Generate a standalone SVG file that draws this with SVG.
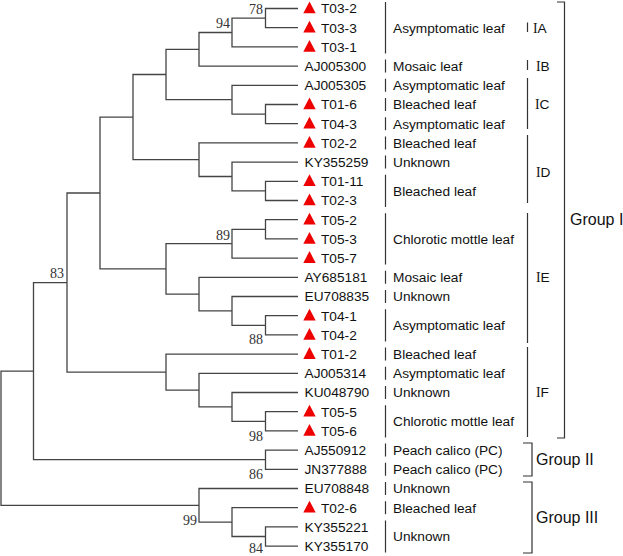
<svg xmlns="http://www.w3.org/2000/svg" width="623" height="556" viewBox="0 0 623 556">
<style>
.br{fill:none;stroke:#444;stroke-width:1.3}
.bar{fill:none;stroke:#333;stroke-width:1.2}
.lab{font-family:"Liberation Sans",Arial,sans-serif;font-size:13.7px;fill:#111}
.grp{font-family:"Liberation Sans",Arial,sans-serif;font-size:16px;fill:#111}
.rn{font-family:"Liberation Serif","Times New Roman",serif}
.bs{font-family:"Liberation Serif","Times New Roman",serif;font-size:14px;fill:#333;text-anchor:end}
.tri{fill:#ee0000}
</style>
<defs>
<path id="tri" class="tri" d="M0 -7 L6.2 4.8 L-6.2 4.8 Z"/>
</defs>
<rect width="623" height="556" fill="#fff"/>
<g id="connectors">
<path class="br" d="M298 8.5 H265.5 V27.7 H298"/>
<path class="br" d="M265.5 18.1 H232 V46.9 H298"/>
<path class="br" d="M232 32.5 H199 V66.1 H298"/>
<path class="br" d="M298 104.5 H265.5 V123.7 H298"/>
<path class="br" d="M298 85.3 H232 V114.1 H265.5"/>
<path class="br" d="M199 49.3 H166 V99.7 H232"/>
<path class="br" d="M298 181.3 H265.5 V200.5 H298"/>
<path class="br" d="M298 162.1 H232 V190.9 H265.5"/>
<path class="br" d="M298 142.9 H199 V176.5 H232"/>
<path class="br" d="M166 74.5 H133 V159.7 H199"/>
<path class="br" d="M298 219.7 H265.5 V238.9 H298"/>
<path class="br" d="M265.5 229.3 H232 V258.1 H298"/>
<path class="br" d="M298 315.7 H265.5 V334.9 H298"/>
<path class="br" d="M298 296.5 H232 V325.3 H265.5"/>
<path class="br" d="M298 277.3 H199 V310.9 H232"/>
<path class="br" d="M232 243.7 H166 V294.1 H199"/>
<path class="br" d="M133 117.1 H100 V268.9 H166"/>
<path class="br" d="M298 411.7 H265.5 V430.9 H298"/>
<path class="br" d="M298 392.5 H232 V421.3 H265.5"/>
<path class="br" d="M298 373.3 H199 V406.9 H232"/>
<path class="br" d="M298 354.1 H166 V390.1 H199"/>
<path class="br" d="M100 193 H67 V372.1 H166"/>
<path class="br" d="M298 450.1 H265.5 V469.3 H298"/>
<path class="br" d="M67 282.55 H33.5 V459.7 H265.5"/>
<path class="br" d="M298 526.9 H265.5 V546.1 H298"/>
<path class="br" d="M298 507.7 H232 V536.5 H265.5"/>
<path class="br" d="M298 488.5 H199 V522.1 H232"/>
<path class="br" d="M33.5 371.1 H1 V505.3 H199"/>
</g>
<g id="bootstrap">
<text class="bs" x="263" y="14">78</text>
<text class="bs" x="230" y="28">94</text>
<text class="bs" x="230" y="240">89</text>
<text class="bs" x="263" y="344">88</text>
<text class="bs" x="64" y="278">83</text>
<text class="bs" x="263" y="441">98</text>
<text class="bs" x="263" y="479">86</text>
<text class="bs" x="197" y="525">99</text>
<text class="bs" x="263" y="553">84</text>
</g>
<g id="leaf-T03-2"><use href="#tri" x="309.5" y="8.5"/><text class="lab" x="321" y="13.3">T03-2</text></g>
<g id="leaf-T03-3"><use href="#tri" x="309.5" y="27.7"/><text class="lab" x="321" y="32.5">T03-3</text></g>
<g id="leaf-T03-1"><use href="#tri" x="309.5" y="46.9"/><text class="lab" x="321" y="51.7">T03-1</text></g>
<g id="leaf-AJ005300"><text class="lab" x="304.5" y="70.9">AJ005300</text></g>
<g id="leaf-AJ005305"><text class="lab" x="304.5" y="90.1">AJ005305</text></g>
<g id="leaf-T01-6"><use href="#tri" x="309.5" y="104.5"/><text class="lab" x="321" y="109.3">T01-6</text></g>
<g id="leaf-T04-3"><use href="#tri" x="309.5" y="123.7"/><text class="lab" x="321" y="128.5">T04-3</text></g>
<g id="leaf-T02-2"><use href="#tri" x="309.5" y="142.9"/><text class="lab" x="321" y="147.7">T02-2</text></g>
<g id="leaf-KY355259"><text class="lab" x="304.5" y="166.9">KY355259</text></g>
<g id="leaf-T01-11"><use href="#tri" x="309.5" y="181.3"/><text class="lab" x="321" y="186.1">T01-11</text></g>
<g id="leaf-T02-3"><use href="#tri" x="309.5" y="200.5"/><text class="lab" x="321" y="205.3">T02-3</text></g>
<g id="leaf-T05-2"><use href="#tri" x="309.5" y="219.7"/><text class="lab" x="321" y="224.5">T05-2</text></g>
<g id="leaf-T05-3"><use href="#tri" x="309.5" y="238.9"/><text class="lab" x="321" y="243.7">T05-3</text></g>
<g id="leaf-T05-7"><use href="#tri" x="309.5" y="258.1"/><text class="lab" x="321" y="262.9">T05-7</text></g>
<g id="leaf-AY685181"><text class="lab" x="304.5" y="282.1">AY685181</text></g>
<g id="leaf-EU708835"><text class="lab" x="304.5" y="301.3">EU708835</text></g>
<g id="leaf-T04-1"><use href="#tri" x="309.5" y="315.7"/><text class="lab" x="321" y="320.5">T04-1</text></g>
<g id="leaf-T04-2"><use href="#tri" x="309.5" y="334.9"/><text class="lab" x="321" y="339.7">T04-2</text></g>
<g id="leaf-T01-2"><use href="#tri" x="309.5" y="354.1"/><text class="lab" x="321" y="358.9">T01-2</text></g>
<g id="leaf-AJ005314"><text class="lab" x="304.5" y="378.1">AJ005314</text></g>
<g id="leaf-KU048790"><text class="lab" x="304.5" y="397.3">KU048790</text></g>
<g id="leaf-T05-5"><use href="#tri" x="309.5" y="411.7"/><text class="lab" x="321" y="416.5">T05-5</text></g>
<g id="leaf-T05-6"><use href="#tri" x="309.5" y="430.9"/><text class="lab" x="321" y="435.7">T05-6</text></g>
<g id="leaf-AJ550912"><text class="lab" x="304.5" y="454.9">AJ550912</text></g>
<g id="leaf-JN377888"><text class="lab" x="304.5" y="474.1">JN377888</text></g>
<g id="leaf-EU708848"><text class="lab" x="304.5" y="493.3">EU708848</text></g>
<g id="leaf-T02-6"><use href="#tri" x="309.5" y="507.7"/><text class="lab" x="321" y="512.5">T02-6</text></g>
<g id="leaf-KY355221"><text class="lab" x="304.5" y="531.7">KY355221</text></g>
<g id="leaf-KY355170"><text class="lab" x="304.5" y="550.9">KY355170</text></g>
<g id="symptoms">
<path class="bar" d="M385.5 2 V53.4 M385.5 59.6 V72.6 M385.5 78.8 V91.8 M385.5 98 V111 M385.5 117.2 V130.2 M385.5 136.4 V149.4 M385.5 155.6 V168.6 M385.5 174.8 V207 M385.5 213.2 V264.6 M385.5 270.8 V283.8 M385.5 290 V303 M385.5 309.2 V341.4 M385.5 347.6 V360.6 M385.5 366.8 V379.8 M385.5 386 V399 M385.5 405.2 V437.4 M385.5 443.6 V456.6 M385.5 462.8 V475.8 M385.5 482 V495 M385.5 501.2 V514.2 M385.5 520.4 V552.6"/>
<text class="lab" x="393" y="32.5">Asymptomatic leaf</text>
<text class="lab" x="393" y="70.9">Mosaic leaf</text>
<text class="lab" x="393" y="90.1">Asymptomatic leaf</text>
<text class="lab" x="393" y="109.3">Bleached leaf</text>
<text class="lab" x="393" y="128.5">Asymptomatic leaf</text>
<text class="lab" x="393" y="147.7">Bleached leaf</text>
<text class="lab" x="393" y="166.9">Unknown</text>
<text class="lab" x="393" y="195.7">Bleached leaf</text>
<text class="lab" x="393" y="243.7">Chlorotic mottle leaf</text>
<text class="lab" x="393" y="282.1">Mosaic leaf</text>
<text class="lab" x="393" y="301.3">Unknown</text>
<text class="lab" x="393" y="330.1">Asymptomatic leaf</text>
<text class="lab" x="393" y="358.9">Bleached leaf</text>
<text class="lab" x="393" y="378.1">Asymptomatic leaf</text>
<text class="lab" x="393" y="397.3">Unknown</text>
<text class="lab" x="393" y="426.1">Chlorotic mottle leaf</text>
<text class="lab" x="393" y="454.9">Peach calico (PC)</text>
<text class="lab" x="393" y="474.1">Peach calico (PC)</text>
<text class="lab" x="393" y="493.3">Unknown</text>
<text class="lab" x="393" y="512.5">Bleached leaf</text>
<text class="lab" x="393" y="541.3">Unknown</text>
</g>
<g id="subclades">
<path class="bar" d="M527.5 22.5 V32 M527.5 60 V70 M527.5 78 V129 M527.5 135 V203 M527.5 213 V343 M527.5 347 V437"/>
<text class="lab" x="533" y="32.5"><tspan class="rn">I</tspan>A</text>
<text class="lab" x="536" y="70.9"><tspan class="rn">I</tspan>B</text>
<text class="lab" x="535" y="109.3"><tspan class="rn">I</tspan>C</text>
<text class="lab" x="536" y="176.5"><tspan class="rn">I</tspan>D</text>
<text class="lab" x="536" y="282.1"><tspan class="rn">I</tspan>E</text>
<text class="lab" x="536" y="397.3"><tspan class="rn">I</tspan>F</text>
</g>
<g id="groups">
<path class="bar" d="M557 2 H564.5 V438 H557"/>
<path class="bar" d="M523 443 H532 V476 H523"/>
<path class="bar" d="M523 482 H532 V553 H523"/>
<text class="grp" x="570" y="225">Group I</text>
<text class="grp" x="536" y="465">Group II</text>
<text class="grp" x="536" y="523">Group III</text>
</g>
</svg>
